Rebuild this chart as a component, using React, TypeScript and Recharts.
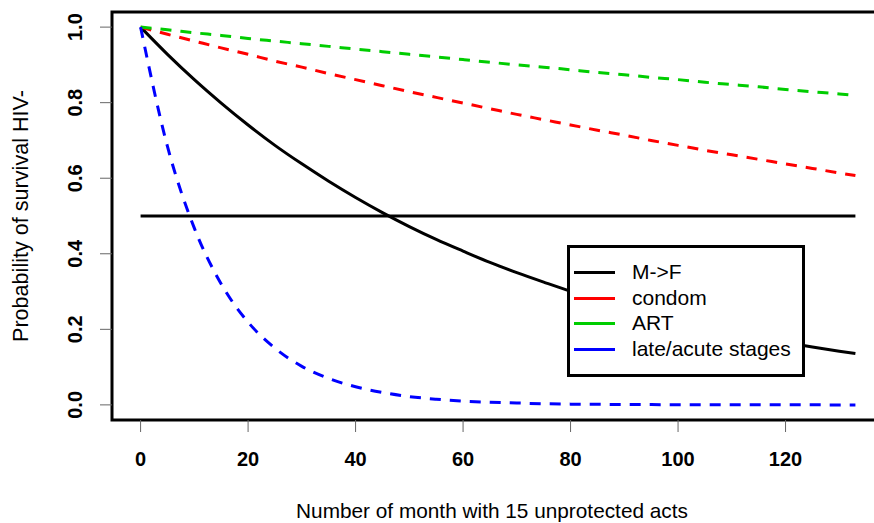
import React from 'react';
import { LineChart, Line, XAxis, YAxis, ReferenceLine, ReferenceArea } from 'recharts';

const months = [0, 5, 10, 15, 20, 25, 30, 35, 40, 45, 50, 55, 60, 65, 70, 75, 80, 85, 90, 95, 100, 105, 110, 115, 120, 125, 130, 133];
const mfValues = [1.0, 0.928, 0.861, 0.799, 0.741, 0.687, 0.638, 0.592, 0.549, 0.509, 0.472, 0.438, 0.407, 0.377, 0.35, 0.325, 0.301, 0.28, 0.259, 0.241, 0.223, 0.207, 0.192, 0.178, 0.165, 0.153, 0.142, 0.136];
const condomValues = [1.0, 0.981, 0.963, 0.945, 0.928, 0.91, 0.894, 0.877, 0.861, 0.845, 0.829, 0.814, 0.799, 0.784, 0.769, 0.755, 0.741, 0.727, 0.714, 0.7, 0.687, 0.674, 0.662, 0.65, 0.638, 0.626, 0.614, 0.607];
const artValues = [1.0, 0.993, 0.985, 0.978, 0.97, 0.963, 0.956, 0.949, 0.942, 0.935, 0.928, 0.921, 0.914, 0.907, 0.9, 0.894, 0.887, 0.88, 0.874, 0.867, 0.861, 0.854, 0.848, 0.842, 0.835, 0.829, 0.823, 0.819];
const lateValues = [1.0, 0.684, 0.468, 0.32, 0.219, 0.15, 0.102, 0.07, 0.048, 0.033, 0.022, 0.015, 0.01, 0.007, 0.005, 0.003, 0.002, 0.0016, 0.001, 0.0007, 0.0005, 0.0003, 0.0002, 0.0002, 0.0001, 0.0001, 0.0, 0.0];
const thresholdValue = 0.5;
const thresholdStart = 0;
const thresholdEnd = 133;

const xTicks = [0, 20, 40, 60, 80, 100, 120];
const yTicks = [0, 0.2, 0.4, 0.6, 0.8, 1.0];
const xDomain = [-5.32, 138.32];
const yDomain = [-0.04, 1.04];

const legendLabels = ['M->F', 'condom', 'ART', 'late/acute stages'];
const seriesColors = ['#000000', '#FF0000', '#00CD00', '#0000FF'];

const xTitle = 'Number of month with 15 unprotected acts';
const yTitle = 'Probability of survival HIV-';

const data = months.map((m, i) => ({
  month: m,
  mf: mfValues[i],
  condom: condomValues[i],
  art: artValues[i],
  late: lateValues[i],
}));

const FONT = '"Liberation Sans", Arial, sans-serif';

const YTick = (props: any) => {
  const { x, y, payload } = props;
  return (
    <text
      transform={`translate(${x}, ${y}) rotate(-90)`}
      textAnchor="middle"
      fill="#000"
      fontSize={20}
      fontWeight="bold"
      fontFamily={FONT}
    >
      {Number(payload.value).toFixed(1)}
    </text>
  );
};

const YTitle = (props: any) => {
  const vb = props.viewBox || { x: 0, y: 12, width: 112, height: 408 };
  const cx = vb.x + 28;
  const cy = vb.y + vb.height / 2;
  return (
    <text
      transform={`translate(${cx}, ${cy}) rotate(-90)`}
      textAnchor="middle"
      fill="#000"
      fontSize={21.6}
      fontFamily={FONT}
    >
      {yTitle}
    </text>
  );
};

const XTitle = (props: any) => {
  const vb = props.viewBox || { x: 112, y: 420, width: 772, height: 103 };
  const cx = vb.x + vb.width / 2 - 6;
  return (
    <text x={cx} y={518} textAnchor="middle" fill="#000" fontSize={20.8} fontFamily={FONT}>
      {xTitle}
    </text>
  );
};

const rowCenters = [24, 50, 75, 101];

export default function App() {
  return (
    <div style={{ position: 'absolute', left: 0, top: 0, width: 874, height: 523, overflow: 'hidden', background: '#fff' }}>
      <LineChart
        width={900}
        height={523}
        data={data}
        margin={{ top: 12, right: 16, bottom: 0, left: 0 }}
      >
        <XAxis
          type="number"
          dataKey="month"
          domain={xDomain}
          ticks={xTicks}
          allowDataOverflow
          axisLine={false}
          tickLine={{ stroke: '#666', strokeWidth: 1 }}
          tickSize={12}
          tickMargin={20}
          height={103}
          tick={{ fill: '#000', fontSize: 20, fontWeight: 'bold', fontFamily: FONT }}
          label={<XTitle />}
        />
        <YAxis
          type="number"
          domain={yDomain}
          ticks={yTicks}
          allowDataOverflow
          axisLine={false}
          tickLine={{ stroke: '#666', strokeWidth: 1 }}
          tickSize={12}
          tickMargin={18}
          width={112}
          tick={<YTick />}
          label={<YTitle />}
        />
        <ReferenceLine
          segment={[{ x: thresholdStart, y: thresholdValue }, { x: thresholdEnd, y: thresholdValue }]}
          stroke="#000"
          strokeWidth={3}
        />
        <Line type="monotone" dataKey="mf" stroke={seriesColors[0]} strokeWidth={3} dot={false} isAnimationActive={false} />
        <Line type="monotone" dataKey="condom" stroke={seriesColors[1]} strokeWidth={3} strokeDasharray="11 9" dot={false} isAnimationActive={false} />
        <Line type="monotone" dataKey="art" stroke={seriesColors[2]} strokeWidth={3} strokeDasharray="11 9" dot={false} isAnimationActive={false} />
        <Line type="monotone" dataKey="late" stroke={seriesColors[3]} strokeWidth={3} strokeDasharray="11 9" dot={false} isAnimationActive={false} />
        <ReferenceArea
          x1={xDomain[0]}
          x2={xDomain[1]}
          y1={yDomain[0]}
          y2={yDomain[1]}
          fill="none"
          fillOpacity={0}
          stroke="#000"
          strokeWidth={3}
          ifOverflow="visible"
        />
      </LineChart>
      <div
        style={{
          position: 'absolute',
          left: 567,
          top: 245,
          width: 238,
          height: 132,
          boxSizing: 'border-box',
          border: '3px solid #000',
          background: '#fff',
          fontFamily: FONT,
        }}
      >
        {legendLabels.map((label, i) => (
          <div key={label} style={{ position: 'absolute', left: 0, top: rowCenters[i] - 13, height: 26, width: 230 }}>
            <div style={{ position: 'absolute', left: 4, top: 11.5, width: 41, height: 3, background: seriesColors[i] }} />
            <div style={{ position: 'absolute', left: 62, top: 0, height: 26, lineHeight: '26px', fontSize: 21, color: '#000', whiteSpace: 'nowrap' }}>
              {label}
            </div>
          </div>
        ))}
      </div>
    </div>
  );
}
